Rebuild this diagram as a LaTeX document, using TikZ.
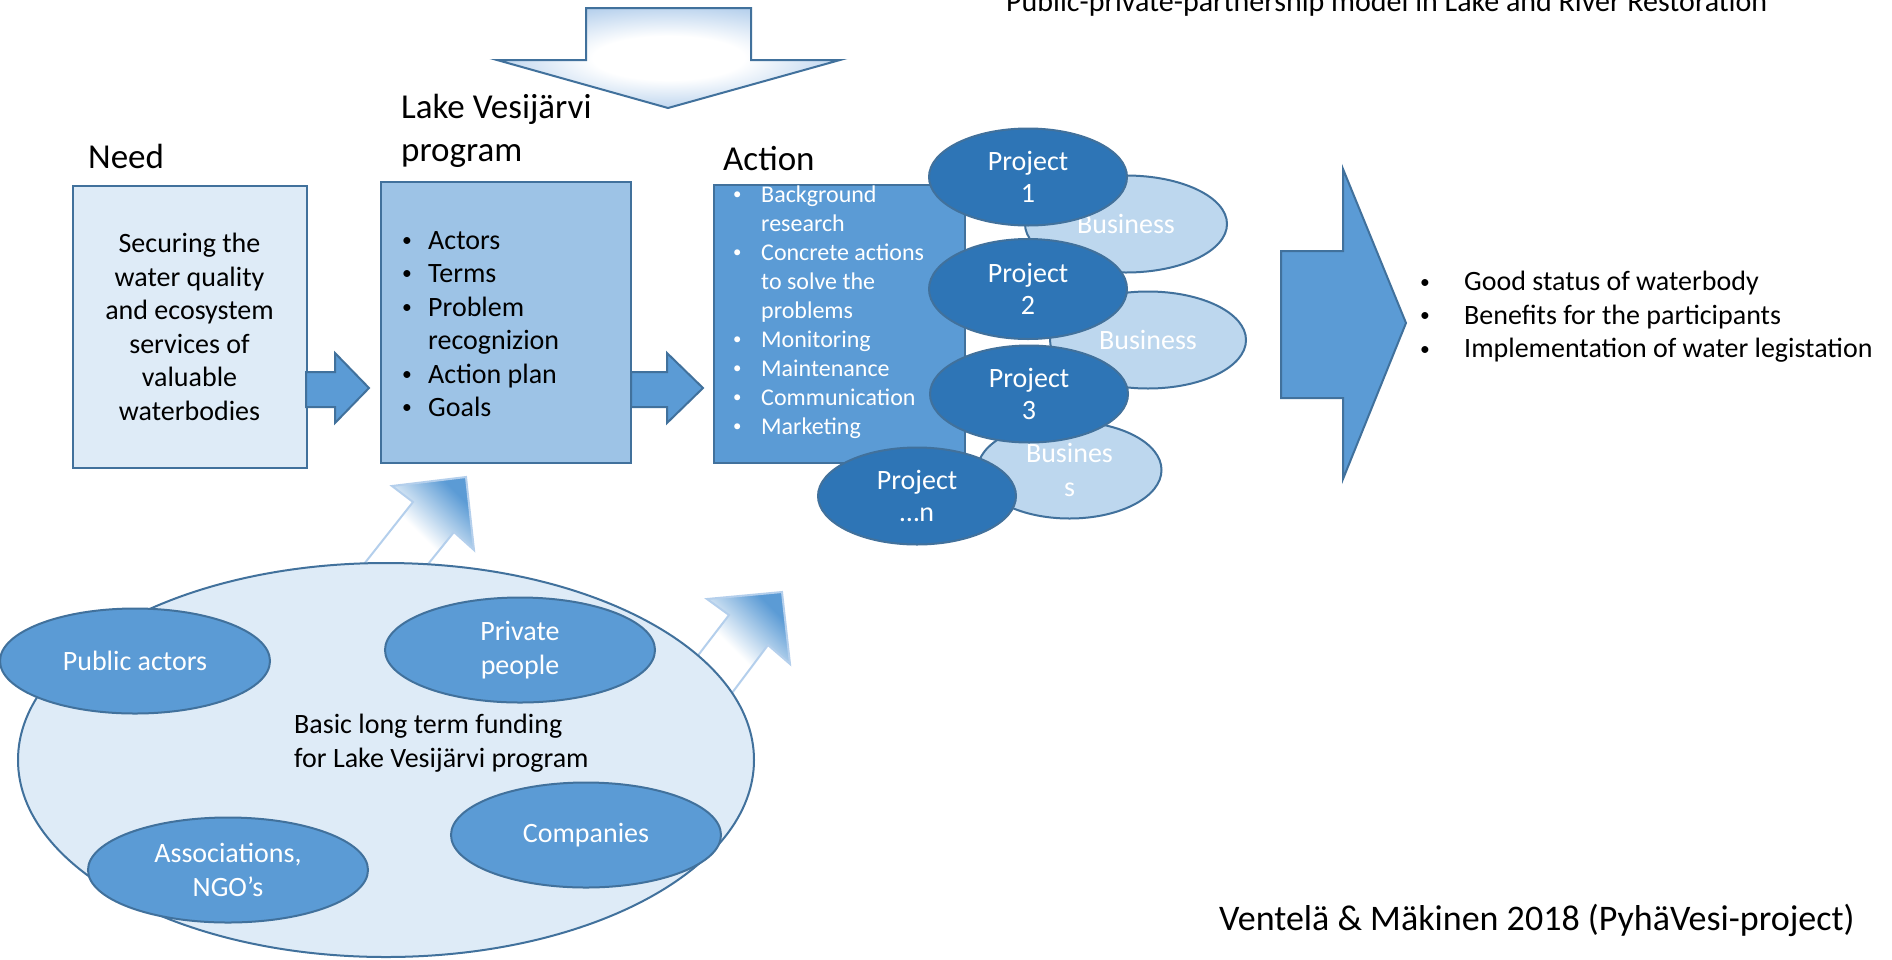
\documentclass[tikz,border=0pt]{standalone}
\usepackage{fontspec}
\setmainfont{Carlito}
\usetikzlibrary{shapes.geometric}

\definecolor{edgeblue}{HTML}{41719C}
\definecolor{needfill}{HTML}{DEEBF7}
\definecolor{progfill}{HTML}{9DC3E6}
\definecolor{actfill}{HTML}{5B9BD5}
\definecolor{projfill}{HTML}{2E75B6}
\definecolor{busifill}{HTML}{BDD7EE}
\definecolor{liftedge}{HTML}{B4CFEC}
\definecolor{glowblue}{HTML}{8DB6E2}

\pgfdeclareradialshading{softglow}{\pgfpoint{0bp}{0bp}}{color(0bp)=(white);
  color(11bp)=(white); color(36bp)=(glowblue); color(50bp)=(glowblue)}

\newcommand{\headfont}{\fontsize{35pt}{43pt}\selectfont}
\newcommand{\bodyfont}{\fontsize{28pt}{33.5pt}\selectfont}
\newcommand{\listfont}{\fontsize{24pt}{29pt}\selectfont}
\newcommand{\itm}[2][26pt]{\makebox[#1][l]{\raisebox{0.1em}{\scalebox{0.7}{\textbullet}}}#2}

\begin{document}
\begin{tikzpicture}[x=1pt,y=-1pt]
%\draw[help lines,step=50] (0,0) grid (1892,959);
\tikzset{
  box/.style     = {draw=edgeblue, line width=2pt, inner sep=0pt},
  head/.style    = {anchor=base west, inner sep=0pt, font=\headfont},
  flowarrow/.style = {draw=edgeblue, line width=2pt, fill=actfill},
  liftarrow/.style = {draw=liftedge, line width=2pt, top color=actfill,
                      bottom color=white, middle color=white, shading angle=-45},
  downarrow/.style = {shading=softglow},
  blob/.style    = {ellipse, draw=edgeblue, line width=2pt, inner sep=0pt,
                    align=center, text=white},
  proj/.style    = {blob, fill=projfill, minimum width=198pt, minimum height=97pt,
                    font=\fontsize{28pt}{32pt}\selectfont},
  busi/.style    = {blob, fill=busifill, minimum width=202pt, minimum height=97pt,
                    font=\fontsize{28pt}{34pt}\selectfont},
  actor/.style   = {blob, fill=actfill, minimum width=270pt, minimum height=105pt,
                    font=\bodyfont}
}
\path[use as bounding box, fill=white] (0,0) rectangle (1892,959);

% titles
\node[anchor=base west, inner sep=0pt, font=\fontsize{30pt}{36pt}\selectfont] (title) at (1006,11)
  {Public-private-partnership model in Lake and River Restoration};
\node[head] (needhead) at (88,168) {Need};
\node[head, align=left] (proghead) at (401,161) {Lake Vesijärvi\\program};
\node[head] (acthead) at (723,170) {Action};

% top arrow
\shade[downarrow] (586,8) -- (751,8) -- (751,60) -- (840,60) -- (668,108)
  -- (497,60) -- (586,60) -- cycle;
\draw[draw=edgeblue, line width=2pt] (586,8) -- (751,8) -- (751,60) -- (840,60) -- (668,108)
  -- (497,60) -- (586,60) -- cycle;

% boxes
\node[box, fill=needfill, minimum width=234pt, minimum height=282pt,
  align=center, font=\bodyfont] (need) at (189.5,327)
  {Securing the\\water quality\\and ecosystem\\services of\\valuable\\waterbodies};
\node[box, fill=progfill, minimum width=250pt, minimum height=281pt] (prog) at (506,322.5) {};
\node[anchor=west, inner sep=0pt, align=left, font=\bodyfont] (progtext) at (402,324)
  {\itm{Actors}\\\itm{Terms}\\\itm{Problem}\\\hspace*{26pt}recognizion\\\itm{Action plan}\\\itm{Goals}};
\node[box, fill=actfill, minimum width=251pt, minimum height=278pt] (act) at (839.5,324) {};
\node[anchor=west, inner sep=0pt, align=left, text=white, font=\listfont] (acttext) at (733,312)
  {\itm[28pt]{Background}\\\hspace*{28pt}research\\\itm[28pt]{Concrete actions}\\\hspace*{28pt}to solve the\\\hspace*{28pt}problems\\\itm[28pt]{Monitoring}\\\itm[28pt]{Maintenance}\\\itm[28pt]{Communication}\\\itm[28pt]{Marketing}};

\draw[flowarrow] (306,372) -- (335,372) -- (335,353) -- (369,388) -- (335,423)
  -- (335,407) -- (306,407) -- cycle;
\draw[flowarrow] (631,372) -- (667,372) -- (667,353) -- (703,388) -- (667,423)
  -- (667,407) -- (631,407) -- cycle;

% projects and business
\node[busi] (b1) at (1126,224) {Business};
\node[busi, minimum width=196pt] (b2) at (1148,340) {Business};
\node[busi, minimum width=184pt] (b3) at (1069.5,470) {Busines\\s};
\node[proj] (p1) at (1028,177) {Project\\1};
\node[proj, minimum height=100pt] (p2) at (1028,289) {Project\\2};
\node[proj] (p3) at (1029,394) {Project\\3};
\node[proj] (pn) at (917,496) {Project\\…n};

% outcome
\draw[flowarrow] (1281,251) -- (1343,251) -- (1343,169) -- (1406,323) -- (1343,479)
  -- (1343,398) -- (1281,398) -- cycle;
\node[anchor=west, inner sep=0pt, align=left, font=\bodyfont] (goals) at (1420,317)
  {\itm[44pt]{Good status of waterbody}\\\itm[44pt]{Benefits for the participants}\\\itm[44pt]{Implementation of water legistation}};

% funding
\draw[liftarrow] (466,477) -- (474,550) -- (454,532) -- (416,579) -- (353,578)
  -- (413,502) -- (392,486) -- cycle;
\draw[liftarrow] (782,592) -- (790,664) -- (768,645) -- (717,713) -- (683,675)
  -- (729,615) -- (707,599) -- cycle;
\node[ellipse, draw=edgeblue, line width=2pt, fill=needfill, inner sep=0pt,
  minimum width=736pt, minimum height=394pt] (fund) at (386,760) {};
\node[anchor=west, inner sep=0pt, align=left, font=\bodyfont] (fundtext) at (294,743)
  {Basic long term funding\\for Lake Vesijärvi program};
\node[actor] (pub) at (135,661) {Public actors};
\node[actor] (priv) at (520,650) {Private\\people};
\node[actor] (comp) at (586,835) {Companies};
\node[actor, minimum width=280pt] (ngo) at (228,870) {Associations,\\NGO’s};

\node[anchor=base west, inner sep=0pt, font=\fontsize{36pt}{43pt}\selectfont] (source) at (1219,930)
  {Ventelä \& Mäkinen 2018 (PyhäVesi-project)};
\end{tikzpicture}
\end{document}
